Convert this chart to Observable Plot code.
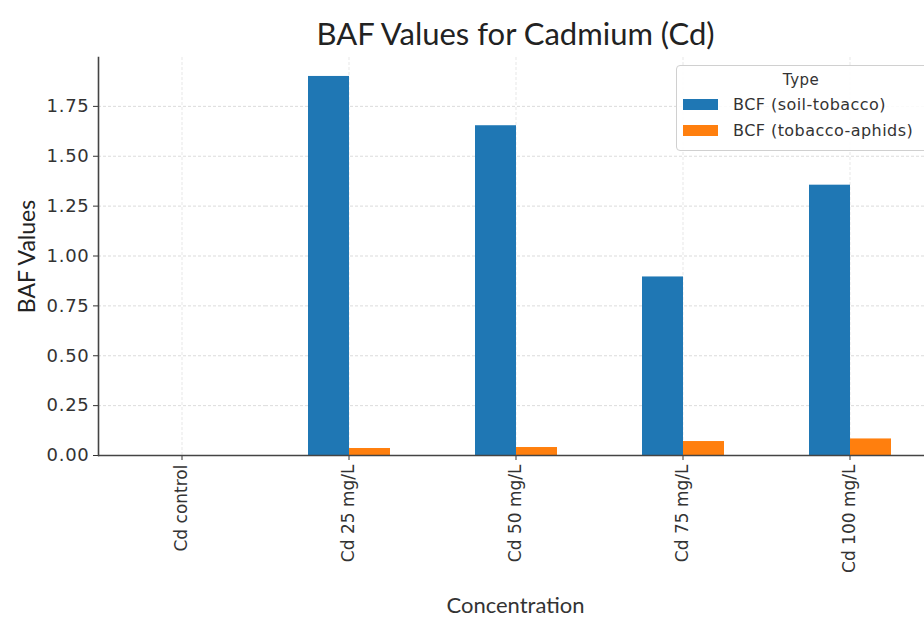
<!DOCTYPE html>
<html>
<head>
<meta charset="utf-8">
<script src="https://cdn.jsdelivr.net/npm/d3@7"></script>
<script src="https://cdn.jsdelivr.net/npm/@observablehq/plot@0.6"></script>
<style>
  html, body { margin: 0; padding: 0; background: #fff; }
  #wrap { position: relative; width: 924px; height: 618px; overflow: hidden; background: #fff; }
  #title { height: 52px; margin-left: 98px; width: 835px; text-align: center; font-family: Lato, "Open Sans", sans-serif; font-size: 31px; line-height: 36px; box-sizing: border-box; padding-top: 15px; color: #222; }
  #xlabel { position: absolute; left: 98px; width: 835px; top: 592px; text-align: center; font-family: Lato, "Open Sans", sans-serif; font-size: 22px; line-height: 26px; color: #333; }
  #chart svg { overflow: hidden; }
  #chart [aria-label="y-axis label"] text { font-family: Lato, "Open Sans", sans-serif; font-size: 23px; fill: #222; }
  #chart [aria-label="y-axis tick label"] text { font-size: 18px; letter-spacing: 0.7px; }
  #legend { position: absolute; left: 676px; top: 65px; width: 266px; height: 86px; border: 1px solid #d0d0d0; border-radius: 4px; background: rgba(255,255,255,0.85); font-family: "DejaVu Sans", sans-serif; font-size: 16px; letter-spacing: 0.45px; color: #333; box-sizing: border-box; }
  #legend .ttl { position: absolute; left: 0; width: 248px; top: 5px; text-align: center; font-size: 15px; }
  #legend .row { position: absolute; left: 6px; height: 20px; display: flex; align-items: center; }
  #legend .sw { width: 35px; height: 11px; margin-right: 15px; }
</style>
</head>
<body>
<div id="wrap">
  <div id="title">BAF Values for Cadmium (Cd)</div>
  <div id="chart"></div>
  <div id="xlabel">Concentration</div>
  <div id="legend"></div>
</div>
<script>
const categories = ["Cd control", "Cd 25 mg/L", "Cd 50 mg/L", "Cd 75 mg/L", "Cd 100 mg/L"];
const series = ["BCF (soil-tobacco)", "BCF (tobacco-aphids)"];
const soilTobacco = [0, 1.90, 1.653, 0.895, 1.355];
const tobaccoAphids = [0, 0.035, 0.04, 0.07, 0.083];
const seriesColors = ["#1f77b4", "#ff7f0e"];
const yTicks = [0, 0.25, 0.5, 0.75, 1.0, 1.25, 1.5, 1.75];
const yDomain = [0, 1.995];
const legendTitle = "Type";

const data = categories.flatMap((c, i) => [
  {conc: c, type: series[0], value: soilTobacco[i]},
  {conc: c, type: series[1], value: tobaccoAphids[i]}
]);

const gridStyle = {stroke: "#c8c8c8", strokeOpacity: 0.7, strokeDasharray: "3,2", strokeWidth: 0.9};

const chart = Plot.plot({
  width: 924,
  height: 540,
  marginLeft: 98,
  marginRight: -9.5,
  marginTop: 5,
  marginBottom: 137,
  style: {fontFamily: "DejaVu Sans, sans-serif", fontSize: "17px", color: "#333", background: "#fff"},
  fx: {domain: categories, padding: 0},
  x: {domain: series, paddingInner: 0, paddingOuter: 1, axis: null},
  y: {domain: yDomain},
  color: {domain: series, range: seriesColors},
  marks: [
    Plot.gridY(yTicks, gridStyle),
    Plot.gridFx({...gridStyle, strokeOpacity: 0.5}),
    Plot.barY(data, {fx: "conc", x: "type", y: "value", fill: "type"}),
    Plot.axisY(yTicks, {tickFormat: d3.format(".2f"), tickSize: 5, tickPadding: 4, stroke: "#333",
      label: "BAF Values", labelAnchor: "center", labelOffset: 80, labelArrow: "none"}),
    Plot.axisFx({anchor: "bottom", tickRotate: -90, tickSize: 5, tickPadding: 4, label: null, stroke: "#333"}),
    Plot.ruleY([0], {stroke: "#444", strokeWidth: 1.6}),
    Plot.frame({anchor: "left", facetAnchor: "left", stroke: "#444", strokeWidth: 1.6})
  ]
});
document.getElementById("chart").appendChild(chart);

const legend = document.getElementById("legend");
const t = document.createElement("div");
t.className = "ttl";
t.textContent = legendTitle;
legend.appendChild(t);
series.forEach((s, i) => {
  const row = document.createElement("div");
  row.className = "row";
  row.style.top = (28 + i * 26) + "px";
  const sw = document.createElement("div");
  sw.className = "sw";
  sw.style.background = chart.scale("color").apply(s);
  const tx = document.createElement("span");
  tx.textContent = s;
  row.appendChild(sw);
  row.appendChild(tx);
  legend.appendChild(row);
});
</script>
</body>
</html>
